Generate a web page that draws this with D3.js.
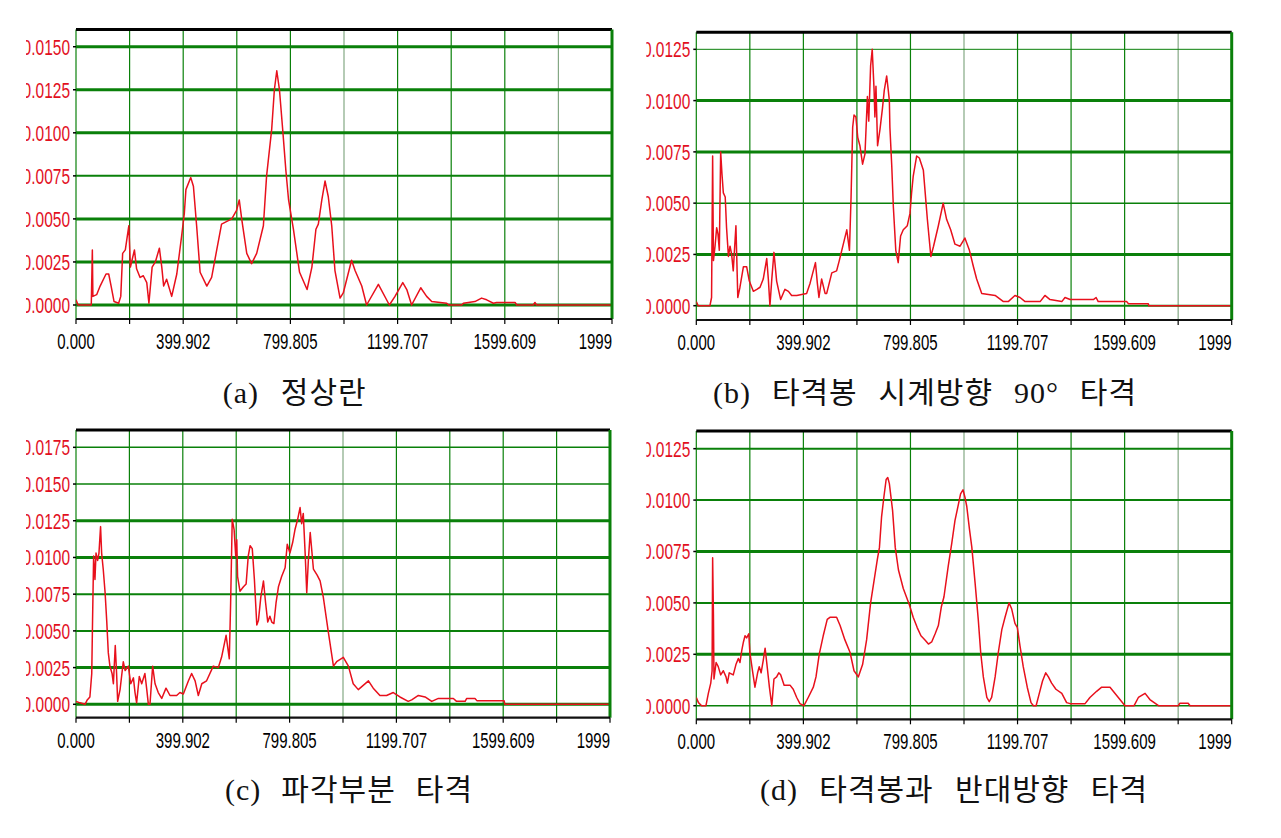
<!DOCTYPE html>
<html><head><meta charset="utf-8">
<script src="https://cdn.jsdelivr.net/npm/d3@7"></script>
<style>
html,body{margin:0;padding:0;background:#fff;}
svg{display:block;}
</style></head>
<body>
<svg id="chart" width="1281" height="838"></svg>
<script>
// ---------- DATA ----------
const xGridValues = d3.range(0, 11).map(k => k * 199.951);
const xTickValues = [0, 399.902, 799.805, 1199.707, 1599.609, 1999.512];
const xTickLabels = ["0.000", "399.902", "799.805", "1199.707", "1599.609", "1999"];

const yTicksA = [0, 0.0025, 0.005, 0.0075, 0.01, 0.0125, 0.015];
const yTicksB = [0, 0.0025, 0.005, 0.0075, 0.01, 0.0125];
const yTicksC = [0, 0.0025, 0.005, 0.0075, 0.01, 0.0125, 0.015, 0.0175];
const yTicksD = [0, 0.0025, 0.005, 0.0075, 0.01, 0.0125];

const captions = ["(a) 정상란", "(b) 타격봉 시계방향 90° 타격", "(c) 파각부분 타격", "(d) 타격봉과 반대방향 타격"];

// [frequency, amplitude]
const seriesA = [[0,0.0003],[8,0],[52,0],[57,0],[61,0.0032],[63,0.0005],[77,0.0006],[90,0.0011],[112,0.0018],[122,0.0018],[131,0.0011],[142,0.0002],[159,0.0001],[167,0.0005],[174,0.0030],[184,0.0032],[197,0.0046],[203,0.0022],[209,0.0026],[218,0.0032],[226,0.0021],[239,0.0016],[251,0.0017],[264,0.0013],[272,0.0001],[284,0.0022],[296,0.0025],[311,0.0033],[320,0.0022],[327,0.0011],[338,0.0015],[357,0.0005],[376,0.0018],[394,0.0040],[404,0.0053],[410,0.0067],[428,0.0074],[438,0.0069],[450,0.0046],[463,0.0019],[488,0.0011],[506,0.0016],[525,0.0032],[543,0.0047],[581,0.0050],[599,0.0055],[609,0.0061],[619,0.0049],[637,0.0030],[655,0.0024],[674,0.0030],[699,0.0046],[711,0.0075],[730,0.0102],[740,0.0125],[749,0.0136],[759,0.0125],[771,0.0102],[783,0.0078],[793,0.0061],[811,0.0044],[834,0.0019],[862,0.0009],[880,0.0022],[895,0.0044],[904,0.0047],[917,0.0061],[929,0.0072],[941,0.0063],[954,0.0046],[966,0.0020],[985,0.0004],[997,0.0007],[1028,0.0026],[1041,0.0020],[1066,0.0011],[1084,0],[1128,0.0012],[1169,0],[1190,0.0005],[1219,0.0013],[1234,0.0009],[1252,0],[1286,0.0010],[1308,0.0005],[1327,0.0002],[1383,0.0001],[1390,0],[1439,0],[1445,0.0001],[1488,0.0002],[1513,0.0004],[1532,0.0003],[1557,0.0001],[1569,0.00015],[1638,0.00015],[1644,0],[1706,0],[1712,0.00015],[1718,0],[1999.5,0]];

const seriesB = [[0,0.0002],[7,0],[51,0],[57,0.0004],[61,0.0073],[64,0.0022],[70,0.0029],[76,0.0038],[81,0.0035],[86,0.0027],[91,0.0075],[96,0.0064],[101,0.0055],[108,0.0053],[113,0.0038],[120,0.0024],[126,0.0029],[132,0.0025],[138,0.0017],[148,0.0039],[155,0.0004],[163,0.0009],[176,0.0019],[188,0.0019],[198,0.0012],[213,0.0007],[226,0.0008],[238,0.0009],[250,0.0013],[263,0.0023],[269,0.0013],[275,0],[282,0.0013],[290,0.0026],[300,0.0012],[315,0.0003],[331,0.0008],[344,0.0007],[356,0.0005],[375,0.0005],[412,0.0006],[425,0.0011],[435,0.0016],[445,0.0021],[452,0.0011],[458,0.0004],[468,0.0013],[481,0.0006],[487,0.0006],[506,0.0016],[524,0.0017],[534,0.0022],[549,0.0030],[562,0.0037],[572,0.0027],[578,0.0053],[584,0.0087],[589,0.0093],[596,0.0092],[603,0.0082],[611,0.0078],[621,0.0069],[630,0.0074],[639,0.0102],[644,0.0090],[651,0.0117],[657,0.0125],[664,0.0105],[667,0.0092],[671,0.0107],[677,0.0078],[686,0.0086],[695,0.0096],[702,0.0105],[711,0.0112],[717,0.0105],[721,0.0100],[723,0.0087],[730,0.0068],[736,0.0048],[745,0.0027],[754,0.0021],[763,0.0034],[773,0.0037],[788,0.0039],[798,0.0045],[804,0.0055],[810,0.0063],[823,0.0073],[833,0.0072],[848,0.0066],[858,0.0050],[863,0.0042],[876,0.0024],[886,0.0029],[904,0.0039],[922,0.0050],[935,0.0042],[950,0.0037],[966,0.0030],[985,0.0029],[1003,0.0033],[1020,0.0027],[1035,0.0019],[1047,0.0013],[1066,0.0006],[1116,0.0005],[1147,0.0002],[1165,0.0002],[1190,0.0005],[1209,0.0004],[1228,0.0002],[1284,0.0002],[1302,0.0005],[1321,0.0003],[1365,0.0002],[1377,0.0004],[1396,0.0003],[1483,0.0003],[1493,0.0004],[1501,0.0002],[1607,0.0002],[1614,0.0001],[1688,0.0001],[1690,0],[1999.5,0]];

const seriesC = [[0,0.0002],[15,0.0001],[34,0],[42,0.0003],[52,0.0005],[59,0.0021],[62,0.0057],[66,0.0101],[71,0.0085],[75,0.0103],[81,0.0098],[86,0.0103],[92,0.0121],[96,0.0103],[102,0.0092],[109,0.0076],[115,0.0057],[121,0.0035],[127,0.0026],[135,0.0021],[140,0.0014],[147,0.0040],[152,0.0021],[156,0.0002],[165,0.0010],[177,0.0029],[184,0.0023],[196,0.0026],[205,0.0014],[215,0.0018],[221,0.0008],[227,0.0001],[237,0.0019],[246,0.0014],[258,0.0021],[265,0.0010],[271,0],[277,0],[287,0.0026],[296,0.0014],[308,0.0008],[321,0.0004],[337,0.0011],[352,0.0006],[377,0.0006],[389,0.0008],[402,0.0007],[421,0.0016],[433,0.0021],[446,0.0016],[458,0.0006],[471,0.0014],[489,0.0016],[514,0.0026],[533,0.0025],[545,0.0032],[562,0.0047],[574,0.0031],[579,0.0069],[585,0.0126],[592,0.0119],[598,0.0101],[602,0.0112],[605,0.0087],[614,0.0077],[627,0.0080],[637,0.0082],[645,0.0101],[652,0.0108],[660,0.0106],[668,0.0085],[677,0.0054],[683,0.0057],[692,0.0073],[702,0.0084],[710,0.0069],[718,0.0056],[726,0.0060],[733,0.0056],[741,0.0055],[749,0.0069],[758,0.0080],[770,0.0087],[783,0.0093],[791,0.0109],[801,0.0103],[811,0.0110],[820,0.0119],[830,0.0126],[839,0.0134],[845,0.0123],[851,0.0130],[858,0.0103],[864,0.0076],[870,0.0098],[877,0.0117],[889,0.0092],[903,0.0088],[914,0.0084],[926,0.0073],[945,0.0049],[964,0.0026],[976,0.0029],[1001,0.0032],[1020,0.0026],[1038,0.0014],[1057,0.0010],[1070,0.0012],[1095,0.0016],[1113,0.0011],[1138,0.0006],[1163,0.0006],[1188,0.0008],[1213,0.0005],[1244,0.0002],[1257,0.0003],[1282,0.0006],[1307,0.0005],[1332,0.0002],[1357,0.0004],[1413,0.0004],[1425,0.0002],[1457,0.0002],[1463,0.0004],[1494,0.0004],[1501,0.00025],[1603,0.00025],[1606,0],[1999.5,0]];

const seriesD = [[0,0.0004],[8,0.00015],[20,0],[36,0],[45,0.0006],[54,0.0011],[59,0.0017],[61,0.0072],[64,0.0044],[66,0.0013],[74,0.0021],[82,0.0019],[91,0.0015],[101,0.0017],[111,0.0014],[116,0.0011],[123,0.0016],[138,0.0015],[148,0.0020],[157,0.0023],[163,0.0021],[170,0.0027],[176,0.0031],[182,0.0034],[188,0.0033],[196,0.0035],[200,0.0026],[211,0.0016],[219,0.0009],[229,0.0016],[235,0.0019],[242,0.0016],[250,0.0022],[257,0.0028],[263,0.0021],[273,0.0009],[282,0],[290,0.0013],[300,0.0014],[308,0.0016],[315,0.0015],[328,0.0010],[350,0.0010],[362,0.0008],[375,0.0004],[387,0.0001],[402,0],[418,0.0004],[437,0.0009],[447,0.0014],[459,0.0025],[474,0.0034],[489,0.0042],[499,0.0043],[524,0.0043],[537,0.0039],[555,0.0032],[574,0.0026],[589,0.0017],[605,0.0014],[621,0.0020],[636,0.0032],[651,0.0050],[664,0.0061],[676,0.0071],[684,0.0077],[692,0.0092],[701,0.0102],[709,0.0110],[715,0.0111],[721,0.0108],[733,0.0095],[743,0.0077],[755,0.0066],[773,0.0057],[796,0.0049],[810,0.0043],[825,0.0038],[839,0.0034],[854,0.0032],[867,0.0030],[879,0.0031],[892,0.0035],[904,0.0039],[915,0.0048],[925,0.0053],[941,0.0068],[954,0.0079],[966,0.0090],[979,0.0098],[987,0.0103],[996,0.0105],[1004,0.0101],[1010,0.0097],[1020,0.0086],[1029,0.0077],[1041,0.0060],[1053,0.0042],[1062,0.0026],[1072,0.0014],[1085,0.0004],[1094,0.0002],[1103,0.0004],[1116,0.0014],[1128,0.0026],[1141,0.0037],[1153,0.0043],[1168,0.0050],[1178,0.0047],[1190,0.0040],[1199,0.0038],[1209,0.0029],[1221,0.0019],[1236,0.0009],[1250,0.00015],[1259,0],[1269,0],[1281,0.0006],[1293,0.0012],[1305,0.0016],[1315,0.0014],[1327,0.0011],[1343,0.0008],[1365,0.0006],[1383,0.00015],[1396,0.0001],[1452,0.0001],[1470,0.0004],[1495,0.0007],[1514,0.0009],[1545,0.0009],[1570,0.0005],[1601,0],[1635,0],[1651,0.0004],[1676,0.0006],[1694,0.0003],[1726,0],[1800,0],[1806,0.00012],[1837,0.00012],[1844,0],[1999.5,0]];

// ---------- LAYOUT ----------
const panels = [
  {data: seriesA, yTicks: yTicksA, yDom: [-0.000813, 0.0160], L: 76,    R: 612,    T: 29.5, B: 319,   hw: [3,3,3,2,3,3,3],      light: [5,9], cap: captions[0], capX: 222.7, capY: 403, capW: 144},
  {data: seriesB, yTicks: yTicksB, yDom: [-0.000697, 0.01333], L: 696.3, R: 1231.7, T: 32.3, B: 320,   hw: [2,3,1.5,3,3,1],      light: [5,9], cap: captions[1], capX: 713,   capY: 403, capW: 424},
  {data: seriesC, yTicks: yTicksC, yDom: [-0.000912, 0.01868], L: 76,    R: 610,    T: 430,  B: 717.7, hw: [3,3,2,2,3,3,1.5,1.5], light: [5],   cap: captions[2], capX: 225,   capY: 800, capW: 248},
  {data: seriesD, yTicks: yTicksD, yDom: [-0.000661, 0.01336], L: 696.3, R: 1231.7, T: 431,  B: 719.3, hw: [1.5,3,2,3,2,2],      light: [5,9], cap: captions[3], capX: 760,   capY: 800, capW: 388}
];

const GREEN = "#0a800a", LIGHTGREEN = "#84a884", RED = "#e8101c", LABELRED = "#e2101e";
const numFont = "'Liberation Sans', Arial, sans-serif";
const svg = d3.select("#chart");
const defs = svg.append("defs");

panels.forEach((p, i) => {
  const x = d3.scaleLinear().domain([0, 1999.512]).range([p.L, p.R]);
  const y = d3.scaleLinear().domain(p.yDom).range([p.B, p.T]);
  const g = svg.append("g");

  defs.append("clipPath").attr("id", "plot" + i).append("rect")
    .attr("x", p.L).attr("y", p.T).attr("width", p.R - p.L).attr("height", p.B - p.T);
  defs.append("clipPath").attr("id", "lab" + i).append("rect")
    .attr("x", p.L - 50).attr("y", p.T - 20).attr("width", 50).attr("height", p.B - p.T + 40);

  // vertical grid
  g.selectAll(".vg").data(xGridValues.slice(1, 10)).enter().append("line")
    .attr("x1", d => x(d)).attr("x2", d => x(d)).attr("y1", p.T).attr("y2", p.B)
    .attr("stroke", (d, k) => p.light.includes(k + 1) ? LIGHTGREEN : GREEN)
    .attr("stroke-width", 1.2);
  // left edge thin green
  g.append("line").attr("x1", p.L).attr("x2", p.L).attr("y1", p.T).attr("y2", p.B)
    .attr("stroke", GREEN).attr("stroke-width", 1.2);

  // horizontal grid
  g.selectAll(".hg").data(p.yTicks).enter().append("line")
    .attr("x1", p.L).attr("x2", p.R).attr("y1", d => y(d)).attr("y2", d => y(d))
    .attr("stroke", GREEN).attr("stroke-width", (d, k) => p.hw[k]);

  // y tick marks
  g.selectAll(".yt").data(p.yTicks).enter().append("line")
    .attr("x1", p.L - 3).attr("x2", p.L).attr("y1", d => y(d)).attr("y2", d => y(d))
    .attr("stroke", "#000").attr("stroke-width", 1.5);

  // y labels (clipped at the left as in the source)
  g.append("g").attr("clip-path", `url(#lab${i})`)
    .selectAll("text").data(p.yTicks).enter().append("text")
    .attr("transform", d => `translate(${p.L - 6},${y(d) + 8}) scale(1,1.45)`)
    .attr("text-anchor", "end").attr("font-family", numFont).attr("font-size", 15.5)
    .attr("fill", LABELRED).text(d => d3.format(".4f")(d));

  // data line
  const line = d3.line().x(d => x(d[0])).y(d => y(d[1]));
  g.append("path").datum(p.data).attr("clip-path", `url(#plot${i})`)
    .attr("d", line).attr("fill", "none").attr("stroke", RED)
    .attr("stroke-width", 1.5).attr("stroke-linejoin", "round");

  // frame: top black, right green, bottom black axis
  g.append("line").attr("x1", p.L).attr("x2", p.R).attr("y1", p.T).attr("y2", p.T)
    .attr("stroke", "#000").attr("stroke-width", 3);
  g.append("line").attr("x1", p.R).attr("x2", p.R).attr("y1", p.T).attr("y2", p.B)
    .attr("stroke", GREEN).attr("stroke-width", 3);
  g.append("line").attr("x1", p.L).attr("x2", p.R).attr("y1", p.B).attr("y2", p.B)
    .attr("stroke", "#111").attr("stroke-width", 2.2);

  // x tick marks
  g.selectAll(".xt").data(xGridValues).enter().append("line")
    .attr("x1", d => x(d)).attr("x2", d => x(d)).attr("y1", p.B).attr("y2", p.B + 5)
    .attr("stroke", "#000").attr("stroke-width", 1.2);

  // x labels
  g.selectAll(".xl").data(xTickValues).enter().append("text")
    .attr("transform", (d, k) => `translate(${k === xTickValues.length - 1 ? p.R : x(d)},${p.B + 30}) scale(1,1.45)`)
    .attr("text-anchor", (d, k) => k === xTickValues.length - 1 ? "end" : "middle")
    .attr("font-family", numFont).attr("font-size", 15).attr("fill", "#000")
    .text((d, k) => xTickLabels[k]);

  // caption: letters kept tight, word gaps widened to match the source width
  const cap = svg.append("text").attr("x", p.capX).attr("y", p.capY)
    .attr("font-family", "'Liberation Serif', 'Noto Sans CJK KR', serif")
    .attr("font-size", 30).attr("letter-spacing", 1).attr("fill", "#111")
    .text(p.cap);
  const natural = cap.node().getComputedTextLength();
  const nSpaces = (p.cap.match(/ /g) || []).length;
  const ws = Math.max(0, (p.capW - natural) / nSpaces);
  cap.attr("word-spacing", ws.toFixed(2));
});
</script>
</body></html>
